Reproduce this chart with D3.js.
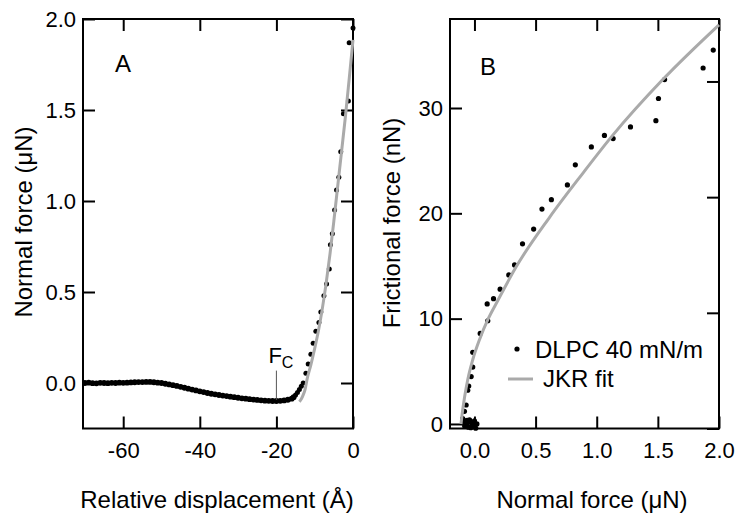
<!DOCTYPE html>
<html>
<head>
<meta charset="utf-8">
<script src="https://cdn.jsdelivr.net/npm/d3@7"></script>
<style>
body { margin: 0; background: #fff; }
svg text { font-family: "Liberation Sans", Arial, sans-serif; fill: #000; }
</style>
</head>
<body>
<svg width="740" height="518"></svg>
<script>
// Panel A: force vs displacement (Å, μN)
var aDisp = [-70,-69,-68,-67,-66,-65,-64,-63,-62,-61,-60,-59,-58,-57,-56,-55,-54,-53,-52,-51,
  -50,-49,-48,-47,-46,-45,-44,-43,-42,-41,-40,-39,-38,-37,-36,-35,-34,-33,-32,-31,
  -30,-29,-28,-27,-26,-25,-24,-23,-22,-21,-20,-19,-18,-17,-16,
  -15.5,-15,-14.5,-14,-13.5,-13,-12.3,-11.7,-11,-10.4,-9.7,-8.9,-8.4,-7.6,-6.9,-6.2,-5.9,-5.4,-4.8,-4.3,-3.7,-3.2,-2.5,-1.2,-1,0];
var aForce = [0,0.002,-0.001,-0.002,0.001,0,-0.001,0.001,0,0.002,0.001,0.002,0.003,0.004,0.005,0.005,0.006,0.006,0.004,0.002,
  0,-0.004,-0.008,-0.012,-0.016,-0.021,-0.026,-0.031,-0.036,-0.041,-0.046,-0.05,-0.055,-0.059,-0.062,-0.066,-0.069,-0.072,-0.075,-0.078,
  -0.081,-0.084,-0.086,-0.089,-0.091,-0.093,-0.095,-0.097,-0.098,-0.099,-0.099,-0.098,-0.096,-0.092,-0.086,
  -0.078,-0.066,-0.052,-0.036,-0.018,0,0.053,0.104,0.158,0.218,0.284,0.333,0.39,0.48,0.544,0.626,0.76,0.82,0.95,1.06,1.13,1.27,1.48,1.55,1.87,1.95];
var aFitDisp = [-14,-13.5,-13,-12.5,-12,-11,-10,-9,-8,-7,-6,-5,-4,-3,-2,-1,0];
var aFitForce = [-0.103,-0.088,-0.065,-0.035,0.02,0.1,0.19,0.29,0.41,0.55,0.71,0.89,1.08,1.27,1.46,1.67,1.885];
var aXTicks = [-60,-40,-20,0];
var aYTicks = [0,0.5,1.0,1.5,2.0];

// Panel B: friction vs normal force (μN, nN)
var bNormal = [-0.09,-0.08,-0.07,-0.06,-0.05,-0.04,-0.03,-0.02,-0.01,0,0.01,0.02,-0.03,0,-0.06,
  -0.096,-0.082,-0.068,-0.055,-0.047,-0.027,-0.014,-0.014,0.047,0.109,0.104,0.156,0.21,0.281,0.328,
  0.393,0.484,0.552,0.629,0.76,0.825,0.956,1.063,1.134,1.276,1.484,1.505,1.555,1.87,1.953];
var bFriction = [0.1,-0.2,0.3,0,-0.3,0.4,0.2,-0.1,0.1,0.3,-0.4,0,-0.35,-0.2,0.35,
  0.5,1.2,1.8,3.2,3.6,4.5,5.4,6.8,8.6,9.8,11.4,11.9,12.8,14.15,15.1,
  17.1,18.5,20.4,21.3,22.7,24.6,26.3,27.4,27.1,28.2,28.8,30.9,32.7,33.8,35.5];
var bFitNormal = [-0.11,-0.1,-0.08,-0.055,-0.014,0.041,0.109,0.19,0.34,0.613,0.886,1.13,1.54,2.0];
var bFitFriction = [0,1.0,2.6,4.2,6.1,8.0,9.9,11.7,14.9,19.6,23.8,27.4,32.7,37.9];
var bXTicks = [0,0.5,1.0,1.5,2.0];
var bYTicks = [0,10,20,30];
var bRightTicks = [0,10,20,30];

var svg = d3.select("svg");
var plotBottom = 428.5, plotTop = 19;

var xA = d3.scaleLinear().domain([-70.5, 0]).range([83, 353]);
var yA = d3.scaleLinear().domain([-0.25, 2.0]).range([plotBottom, plotTop]);
var xB = d3.scaleLinear().domain([-0.2, 2.0]).range([450, 719]);
var yB = d3.scaleLinear().domain([-0.43, 38.45]).range([plotBottom, plotTop]);
var yB2 = d3.scaleLinear().domain([0, 35.4]).range([plotBottom, plotTop]);

function styleAxis(g) {
  g.select(".domain").remove();
  g.attr("font-size", 22).attr("font-family", null);
  g.selectAll(".tick line").attr("stroke", "#000").attr("stroke-width", 2);
}

function drawAxes(x, y, xTicks, yTicks, xFmt, yFmt, y2, y2Ticks) {
  svg.append("g").attr("transform", "translate(0," + plotBottom + ")")
    .call(d3.axisBottom(x).tickValues(xTicks).tickSize(-12).tickPadding(14).tickFormat(xFmt))
    .call(styleAxis);
  svg.append("g").attr("transform", "translate(0," + plotTop + ")")
    .call(d3.axisTop(x).tickValues(xTicks).tickSize(-12).tickFormat(""))
    .call(styleAxis);
  svg.append("g").attr("transform", "translate(" + x.range()[0] + ",0)")
    .call(d3.axisLeft(y).tickValues(yTicks).tickSize(-12).tickPadding(7).tickFormat(yFmt))
    .call(styleAxis);
  svg.append("g").attr("transform", "translate(" + x.range()[1] + ",0)")
    .call(d3.axisRight(y2).tickValues(y2Ticks).tickSize(-12).tickFormat(""))
    .call(styleAxis);
  svg.append("rect")
    .attr("x", x.range()[0]).attr("y", plotTop)
    .attr("width", x.range()[1] - x.range()[0]).attr("height", plotBottom - plotTop)
    .attr("fill", "none").attr("stroke", "#000").attr("stroke-width", 2);
}

drawAxes(xA, yA, aXTicks, aYTicks, function(d) { return String(d); }, function(d) { return d.toFixed(1); }, yA, aYTicks);
drawAxes(xB, yB, bXTicks, bYTicks, function(d) { return d.toFixed(1); }, function(d) { return String(d); }, yB2, bRightTicks);

// panel A marks
svg.append("g").selectAll("circle")
  .data(d3.zip(aDisp, aForce))
  .enter().append("circle")
    .attr("cx", function(d) { return xA(d[0]); })
    .attr("cy", function(d) { return yA(d[1]); })
    .attr("r", function(d) { return d[0] < -15 ? 2.9 : 2.5; })
    .attr("fill", "#000");

var lineA = d3.line()
  .x(function(d) { return xA(d[0]); })
  .y(function(d) { return yA(d[1]); })
  .curve(d3.curveMonotoneX);
svg.append("path")
  .datum(d3.zip(aFitDisp, aFitForce))
  .attr("d", lineA)
  .attr("fill", "none").attr("stroke", "#aaaaaa").attr("stroke-width", 3);

// F_C marker
svg.append("line")
  .attr("x1", xA(-20)).attr("x2", xA(-20))
  .attr("y1", yA(0.068)).attr("y2", yA(-0.093))
  .attr("stroke", "#555").attr("stroke-width", 1);
var fc = svg.append("text").attr("x", xA(-20) - 8).attr("y", 363).attr("font-size", 22).text("F");
fc.append("tspan").attr("dy", 5).attr("font-size", 16).text("C");

// panel B marks
svg.append("g").selectAll("circle")
  .data(d3.zip(bNormal, bFriction))
  .enter().append("circle")
    .attr("cx", function(d) { return xB(d[0]); })
    .attr("cy", function(d) { return yB(d[1]); })
    .attr("r", 2.6)
    .attr("fill", "#000");

var lineB = d3.line()
  .x(function(d) { return xB(d[0]); })
  .y(function(d) { return yB(d[1]); })
  .curve(d3.curveMonotoneX);
svg.append("path")
  .datum(d3.zip(bFitNormal, bFitFriction))
  .attr("d", lineB)
  .attr("fill", "none").attr("stroke", "#aaaaaa").attr("stroke-width", 3);

// legend
svg.append("circle").attr("cx", 517).attr("cy", 349).attr("r", 2.6).attr("fill", "#000");
svg.append("text").attr("x", 535).attr("y", 358).attr("font-size", 24).text("DLPC 40 mN/m");
svg.append("line").attr("x1", 508).attr("x2", 533).attr("y1", 379).attr("y2", 379)
  .attr("stroke", "#aaaaaa").attr("stroke-width", 3);
svg.append("text").attr("x", 543).attr("y", 387).attr("font-size", 24).text("JKR fit");

// panel letters
svg.append("text").attr("x", 115).attr("y", 72).attr("font-size", 24).text("A");
svg.append("text").attr("x", 480).attr("y", 75).attr("font-size", 24).text("B");

// axis titles
svg.append("text").attr("x", 217).attr("y", 508).attr("font-size", 24)
  .attr("text-anchor", "middle").text("Relative displacement (Å)");
svg.append("text").attr("x", 592).attr("y", 508).attr("font-size", 24)
  .attr("text-anchor", "middle").text("Normal force (μN)");
svg.append("text").attr("transform", "translate(32,222) rotate(-90)").attr("font-size", 24)
  .attr("text-anchor", "middle").text("Normal force (μN)");
svg.append("text").attr("transform", "translate(400,223) rotate(-90)").attr("font-size", 24)
  .attr("text-anchor", "middle").text("Frictional force (nN)");
</script>
</body>
</html>
